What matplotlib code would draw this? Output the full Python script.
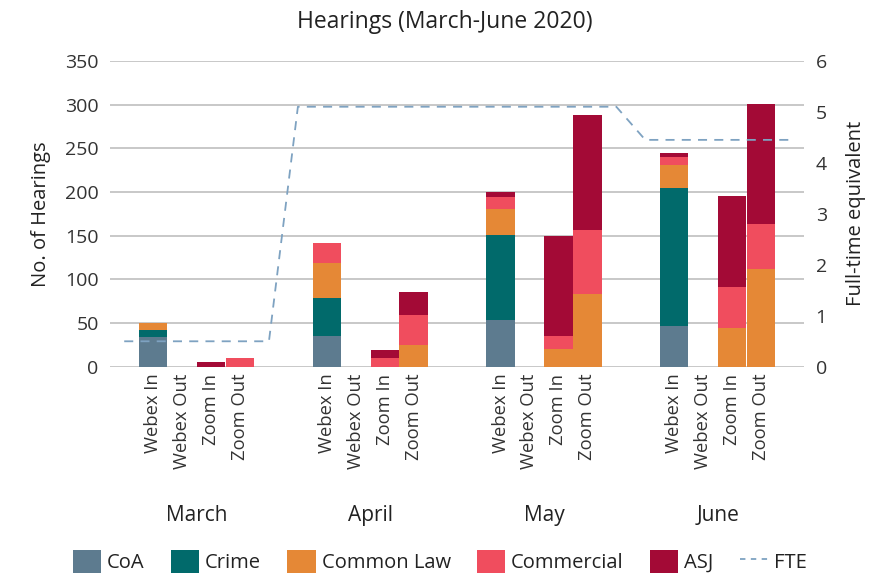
import matplotlib
matplotlib.use("Agg")
import matplotlib.pyplot as plt
import matplotlib.transforms as mtransforms
from matplotlib.patches import Patch
from matplotlib.lines import Line2D
import numpy as np

plt.rcParams['font.family'] = ['Open Sans', 'DejaVu Sans']

months = ["March", "April", "May", "June"]
channels = ["Webex In", "Webex Out", "Zoom In", "Zoom Out"]
series_names = ["CoA", "Crime", "Common Law", "Commercial", "ASJ"]
colors = ["#5D7B8F", "#016A6B", "#E58836", "#F04D5E", "#A30A36"]

# values per month: rows = channels (Webex In, Webex Out, Zoom In, Zoom Out)
CoA = {
    "March": [34, 0, 0, 0],
    "April": [35, 0, 0, 0],
    "May":   [53, 0, 0, 0],
    "June":  [47, 0, 0, 0],
}
Crime = {
    "March": [8, 0, 0, 0],
    "April": [44, 0, 0, 0],
    "May":   [98, 0, 0, 0],
    "June":  [158, 0, 0, 0],
}
CommonLaw = {
    "March": [8, 0, 0, 0],
    "April": [40, 0, 0, 25],
    "May":   [29, 0, 20, 83],
    "June":  [26, 0, 44, 112],
}
Commercial = {
    "March": [0, 0, 0, 10],
    "April": [23, 0, 10, 34],
    "May":   [14, 0, 15, 73],
    "June":  [9, 0, 47, 51],
}
ASJ = {
    "March": [0, 0, 5, 0],
    "April": [0, 0, 9, 26],
    "May":   [6, 0, 115, 132],
    "June":  [5, 0, 104, 138],
}
FTE = [0.5, 5.1, 5.1, 4.45]

all_series = [CoA, Crime, CommonLaw, Commercial, ASJ]

fig = plt.figure(figsize=(8.85, 5.74), dpi=100)
ax = fig.add_axes([0.124, 0.361, 0.785, 0.533])
ax2 = ax.twinx()

group = 6  # blank, 4 bars, blank
tick_pos, tick_lab = [], []
line_x, line_y = [], []
for mi, m in enumerate(months):
    base = mi * group - 1
    xs = np.arange(4) + base + 1
    bottom = np.zeros(4)
    for s, c in zip(all_series, colors):
        vals = np.array(s[m], dtype=float)
        ax.bar(xs, vals, bottom=bottom, width=0.98, color=c, zorder=3)
        bottom += vals
    tick_pos += list(xs)
    tick_lab += channels
    for k in range(group):
        line_x.append(base + k)
        line_y.append(FTE[mi])
    ax.text(base + 2.5, -0.487, m, transform=mtransforms.blended_transform_factory(ax.transData, ax.transAxes),
            ha='center', va='center', fontsize=15, color='#222222')

ax2.plot(line_x, line_y, linestyle=(0, (5, 4)), color='#7EA2C1', lw=1.3, zorder=4)

ax.set_xlim(-1.5, 22.5)
ax.set_ylim(0, 350)
ax2.set_ylim(0, 6)
ax.set_yticks(range(0, 351, 50))
ax2.set_yticks(range(0, 7))
ax.set_xticks(tick_pos)
ax.set_xticklabels(tick_lab, rotation=90, fontsize=13.2, color='#333333')
ax.tick_params(axis='x', length=0, pad=5)
ax.tick_params(axis='y', length=0, labelsize=14, labelcolor='#333333', pad=8)
ax2.tick_params(axis='y', length=0, labelsize=14, labelcolor='#333333', pad=8)
ax.grid(axis='y', color='#C4C4C4', lw=1.3, zorder=0)
ax.set_axisbelow(True)
for a in (ax, ax2):
    for sp in a.spines.values():
        sp.set_visible(False)

ax.set_ylabel("No. of Hearings", fontsize=14.5, color='#222222', labelpad=10)
ax2.set_ylabel("Full-time equivalent", fontsize=14.5, color='#222222', labelpad=14)
fig.text(0.503, 0.962, "Hearings (March-June 2020)", ha='center', va='center', fontsize=16.5, color='#222222')

handles = [Patch(facecolor=c, edgecolor='none') for c in colors]
handles.append(Line2D([0], [0], color='#7EA2C1', lw=1.3, linestyle=(0, (3, 3))))
fig.legend(handles, series_names + ["FTE"], loc='center', bbox_to_anchor=(0.497, 0.022), ncol=6,
           frameon=False, fontsize=14.5, handlelength=1.4, handleheight=1.4, handletextpad=0.3,
           columnspacing=1.3, labelcolor='#222222')

fig.savefig("out.png", dpi=100)
